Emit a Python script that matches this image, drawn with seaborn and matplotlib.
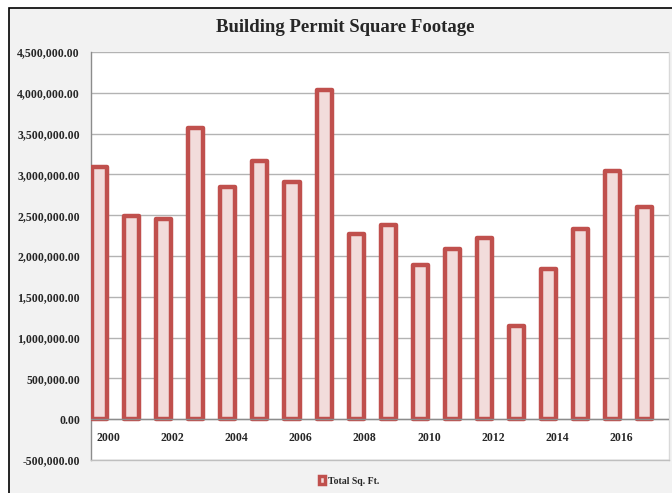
import matplotlib
matplotlib.use("Agg")
import matplotlib.pyplot as plt
from matplotlib.patches import Rectangle
import pandas as pd
import seaborn as sns

# --- data ---
years = list(range(2000, 2018))
sq_ft = [3090000, 2495000, 2455000, 3570000, 2840000, 3170000, 2910000, 4030000,
         2265000, 2380000, 1895000, 2090000, 2220000, 1145000, 1835000, 2330000,
         3040000, 2600000]
y_ticks = list(range(-500000, 4500001, 500000))
series_name = 'Total Sq. Ft.'

EDGE = '#c0504d'
FILL = '#f2dcdb'
BG = '#f2f2f2'

df = pd.DataFrame({'Year': [str(y) for y in years], 'SqFt': sq_ft})

sns.set_theme(style='white')
plt.rcParams['font.family'] = ['Liberation Serif', 'DejaVu Serif']
plt.rcParams['font.weight'] = 'bold'

fig = plt.figure(figsize=(6.72, 4.93), dpi=100, facecolor='white')
# chart area panel (grey, black frame on top/left, runs off the right/bottom)
fig.patches.append(Rectangle((9 / 672, -0.05), 1.0, 1 - 8 / 493 + 0.05,
                             transform=fig.transFigure, facecolor=BG,
                             edgecolor='black', linewidth=1.2, zorder=-10))

ax = fig.add_axes([91 / 672, 1 - 460 / 493, (669 - 91) / 672, (460 - 52) / 493])
ax.set_facecolor('white')

sns.barplot(data=df, x='Year', y='SqFt', ax=ax, color=FILL, saturation=1,
            width=0.47, edgecolor=EDGE, linewidth=3.2, label=series_name, zorder=3)
for p in ax.patches:
    p.set_joinstyle('round')

ax.set_ylim(-500000, 4500000)
ax.set_xlim(-0.27, 17.76)
ax.set_yticks(y_ticks, [f'{v:,.2f}' for v in y_ticks])
ax.yaxis.grid(True, color='#b3b3b3', linewidth=1.0, zorder=0)
ax.axhline(0, color='#8c8c8c', linewidth=1.0, zorder=4)

# year labels sit just below the zero line, every second year
even_pos = [i + 0.27 for i, y in enumerate(years) if y % 2 == 0]
even_lab = [str(y) for y in years if y % 2 == 0]
ax.set_xticks(even_pos, even_lab)
ax.tick_params(axis='x', length=0, pad=-20, labelsize=8.5)
ax.tick_params(axis='y', length=0, pad=8, labelsize=8.5)
ax.set_xlabel('')
ax.set_ylabel('')

ax.spines['top'].set_visible(False)
ax.spines['left'].set_color('#8c8c8c')
ax.spines['bottom'].set_color('#bfbfbf')
ax.spines['right'].set_color('#d9d9d9')
for s in ax.spines.values():
    s.set_linewidth(1.0)

fig.text(345 / 672, 1 - 28 / 493, 'Building Permit Square Footage',
         ha='center', va='center', fontsize=13.5, fontweight='bold')

leg = ax.legend(loc='center', bbox_to_anchor=(349 / 672, 1 - 481 / 493),
                bbox_transform=fig.transFigure, frameon=False, fontsize=7,
                handlelength=0.6, handleheight=0.8, handletextpad=0.25)
for h in leg.legend_handles:
    h.set_linewidth(2.5)

fig.savefig('out.png', dpi=100, facecolor=fig.get_facecolor())
